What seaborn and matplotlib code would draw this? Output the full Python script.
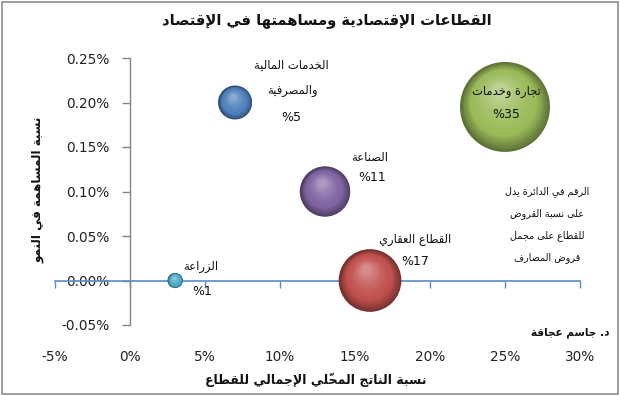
import numpy as np
import pandas as pd
import matplotlib
matplotlib.use("Agg")
import matplotlib.pyplot as plt
import matplotlib.transforms as mtransforms
from matplotlib.colors import to_rgb
from matplotlib.patches import Rectangle
from matplotlib.ticker import FuncFormatter
import seaborn as sns

# ---------------- data ----------------
sector_keys = ["agriculture", "finance", "industry", "real_estate", "trade"]
gdp_share = [3, 7, 13, 16, 25]                    # x  (% of GDP)
growth_contrib = [0.0, 0.20, 0.10, 0.0, 0.195]    # y  (% contribution to growth)
loan_share = [1, 5, 11, 17, 35]                   # bubble size (% of bank loans)
label_lines = [["الزراعة"], ["الخدمات المالية", "والمصرفية"], ["الصناعة"],
               ["القطاع العقاري"], ["تجارة وخدمات"]]
pct_labels = ["%1", "%5", "%11", "%17", "%35"]
bubble_colors = ["#4BACC6", "#4F81BD", "#8064A2", "#C0504D", "#9BBB59"]
x_ticks = [-5, 0, 5, 10, 15, 20, 25, 30]
y_ticks = [-0.05, 0.0, 0.05, 0.10, 0.15, 0.20, 0.25]
title_text = "القطاعات الإقتصادية ومساهمتها في الإقتصاد"
xlabel_text = "نسبة الناتج المحلّي الإجمالي للقطاع"
ylabel_text = "نسبة المساهمة في النمو"
note_lines = ["الرقم في الدائرة يدل", "على نسبة القروض", "للقطاع على مجمل", "قروض المصارف"]
author_text = "د. جاسم عجاقة"

# -------------- minimal Arabic shaping (no external libs) --------------
_DUAL = {0x0626: 0xFE89, 0x0628: 0xFE8F, 0x062A: 0xFE95, 0x062B: 0xFE99, 0x062C: 0xFE9D,
         0x062D: 0xFEA1, 0x062E: 0xFEA5, 0x0633: 0xFEB1, 0x0634: 0xFEB5, 0x0635: 0xFEB9,
         0x0636: 0xFEBD, 0x0637: 0xFEC1, 0x0638: 0xFEC5, 0x0639: 0xFEC9, 0x063A: 0xFECD,
         0x0641: 0xFED1, 0x0642: 0xFED5, 0x0643: 0xFED9, 0x0644: 0xFEDD, 0x0645: 0xFEE1,
         0x0646: 0xFEE5, 0x0647: 0xFEE9, 0x064A: 0xFEF1}
_RIGHT = {0x0622: 0xFE81, 0x0623: 0xFE83, 0x0624: 0xFE85, 0x0625: 0xFE87, 0x0627: 0xFE8D,
          0x0629: 0xFE93, 0x062F: 0xFEA9, 0x0630: 0xFEAB, 0x0631: 0xFEAD, 0x0632: 0xFEAF,
          0x0648: 0xFEED, 0x0649: 0xFEEF}
_LAMALEF = {0x0622: 0xFEF5, 0x0623: 0xFEF7, 0x0625: 0xFEF9, 0x0627: 0xFEFB}
_MARKS = set(range(0x064B, 0x0653)) | {0x0670}


def shape(s):
    clusters = []
    for ch in s:
        if ord(ch) in _MARKS and clusters:
            clusters[-1][1].append(ch)
        else:
            clusters.append([ch, []])
    items = []
    i = 0
    while i < len(clusters):
        b, m = clusters[i]
        if ord(b) == 0x0644 and i + 1 < len(clusters) and ord(clusters[i + 1][0]) in _LAMALEF:
            items.append(("LA", clusters[i + 1][0], m + clusters[i + 1][1]))
            i += 2
        else:
            items.append(("C", b, m))
            i += 1

    def joins_next(it):
        return it[0] == "C" and ord(it[1]) in _DUAL

    def joining(it):
        return it[0] == "LA" or ord(it[1]) in _DUAL or ord(it[1]) in _RIGHT

    out = []
    for k, it in enumerate(items):
        prev = items[k - 1] if k > 0 else None
        nxt = items[k + 1] if k + 1 < len(items) else None
        pj = prev is not None and joins_next(prev)
        if it[0] == "LA":
            g = chr(_LAMALEF[ord(it[1])] + (1 if pj else 0))
        else:
            c = ord(it[1])
            if c in _DUAL:
                nj = nxt is not None and joining(nxt)
                form = 3 if (pj and nj) else 1 if pj else 2 if nj else 0
                g = chr(_DUAL[c] + form)
            elif c in _RIGHT:
                g = chr(_RIGHT[c] + (1 if pj else 0))
            else:
                g = it[1]
        out.append((g, it[2]))
    return "".join(g + "".join(m) for g, m in reversed(out))


# ---------------- figure ----------------
sns.set_theme(style="white")
plt.rcParams["font.family"] = ["DejaVu Sans"]
fig = plt.figure(figsize=(6.2, 3.96), dpi=100)
fig.patch.set_facecolor("white")
W, H = 620, 396
ax = fig.add_axes([55 / W, 1 - 325 / H, (580 - 55) / W, (325 - 58) / H])
ax.set_facecolor("none")

df = pd.DataFrame({"sector": sector_keys, "gdp": gdp_share, "growth": growth_contrib,
                   "loans": loan_share})

px_per_unit = 15.2            # bubble diameter in px for size 1
pt_per_px = 72 / fig.dpi
k_area = (px_per_unit * pt_per_px) ** 2
smin, smax = min(loan_share), max(loan_share)

# base bubbles (darker rim colour) via seaborn
rim_palette = {s: tuple(np.array(to_rgb(c)) * 0.6) for s, c in zip(sector_keys, bubble_colors)}
sns.scatterplot(data=df, x="gdp", y="growth", size="loans", hue="sector",
                palette=rim_palette, sizes=(k_area * smin, k_area * smax),
                size_norm=(smin, smax), legend=False, linewidth=0, ax=ax, zorder=3)
ax.set_xlabel("")
ax.set_ylabel("")

# 3D-like shading: stacked, shrinking, offset discs
N = 30
for xi, yi, vi, col in zip(gdp_share, growth_contrib, loan_share, bubble_colors):
    base = np.array(to_rgb(col))
    dark = base * 0.6
    light = base + (1 - base) * 0.35
    R = np.sqrt(k_area * vi) / 2  # radius in points
    for k in range(1, N):
        t = k / (N - 1)
        f = 1 - 0.85 * t
        r = R * f
        dx = -(R - r) * 0.15
        dy = (R - r) * 0.42
        if t < 0.3:
            c = dark + (base - dark) * (t / 0.3)
        else:
            c = base + (light - base) * ((t - 0.3) / 0.7) ** 1.6
        tr = mtransforms.offset_copy(ax.transData, fig=fig, x=dx, y=dy, units="points")
        ax.scatter([xi], [yi], s=(2 * r) ** 2, color=[tuple(np.clip(c, 0, 1))],
                   linewidths=0, transform=tr, zorder=3 + k * 0.01)

# ---------------- axes styling ----------------
ax.set_xlim(-5, 30)
ax.set_ylim(-0.05, 0.25)
for s in ["top", "right"]:
    ax.spines[s].set_visible(False)
ax.spines["left"].set_position(("data", 0))
ax.spines["bottom"].set_position(("data", 0))
ax.spines["left"].set_color("#868686")
ax.spines["bottom"].set_color("#5B8BC9")
ax.spines["left"].set_linewidth(1.0)
ax.spines["bottom"].set_linewidth(1.2)
ax.set_xticks(x_ticks)
ax.set_yticks(y_ticks)
ax.tick_params(axis="x", direction="out", length=5, width=1.0, color="#5B8BC9",
               labelbottom=False, bottom=True)
ax.tick_params(axis="y", direction="out", length=6, width=1.0, color="#868686",
               labelleft=True, left=True, pad=9, labelsize=9.8, labelcolor="#222222")
ax.yaxis.set_major_formatter(FuncFormatter(lambda v, p: f"{v:.2f}%"))

secx = ax.secondary_xaxis("bottom")
secx.set_xticks(x_ticks)
secx.xaxis.set_major_formatter(FuncFormatter(lambda v, p: f"{v:.0f}%"))
secx.tick_params(length=0, pad=18, labelsize=9.8, labelcolor="#222222")
for s in secx.spines.values():
    s.set_visible(False)
ax.grid(False)

# axis titles
fig.text(38 / W, 1 - 190 / H, shape(ylabel_text), rotation=90, ha="center", va="center",
         fontsize=8.6, fontweight="bold", color="#111111")
fig.text(316 / W, 1 - 380 / H, shape(xlabel_text), ha="center", va="center",
         fontsize=9.0, fontweight="bold", color="#111111")
fig.text(327 / W, 1 - 21 / H, shape(title_text), ha="center", va="center",
         fontsize=10.6, fontweight="bold", color="#111111")

# data labels (offsets in px from bubble centre: name lines, percentage)
label_offsets = [((26, -14),), ((56, -37), (57, -12)), ((45, -34),), ((45, -41),), ((1, -15),)]
pct_offsets = [(27, 11), (56, 15), (47, -14), (45, -19), (1, 8)]
for xi, yi, lines, offs, pl, po in zip(gdp_share, growth_contrib, label_lines,
                                       label_offsets, pct_labels, pct_offsets):
    for ln, (ox, oy) in zip(lines, offs):
        ax.annotate(shape(ln), (xi, yi), xytext=(ox * pt_per_px, -oy * pt_per_px),
                    textcoords="offset points", ha="center", va="center",
                    fontsize=8.3, color="#111111", zorder=10)
    ax.annotate(pl, (xi, yi), xytext=(po[0] * pt_per_px, -po[1] * pt_per_px),
                textcoords="offset points", ha="center", va="center",
                fontsize=9, color="#111111", zorder=10)

# note and author
for j, ln in enumerate(note_lines):
    fig.text(547 / W, 1 - (192 + 21.7 * j) / H, shape(ln), ha="center", va="center",
             fontsize=6.9, color="#111111")
fig.text(570 / W, 1 - 333 / H, shape(author_text), ha="center", va="center",
         fontsize=7.6, fontweight="bold", color="#111111")

# chart border
fig.patches.append(Rectangle((1.5 / W, 2.0 / H), 616.5 / W, 392.5 / H,
                             transform=fig.transFigure, fill=False,
                             edgecolor="#8C8C8C", linewidth=1.2))

fig.savefig("out.png", dpi=100)
